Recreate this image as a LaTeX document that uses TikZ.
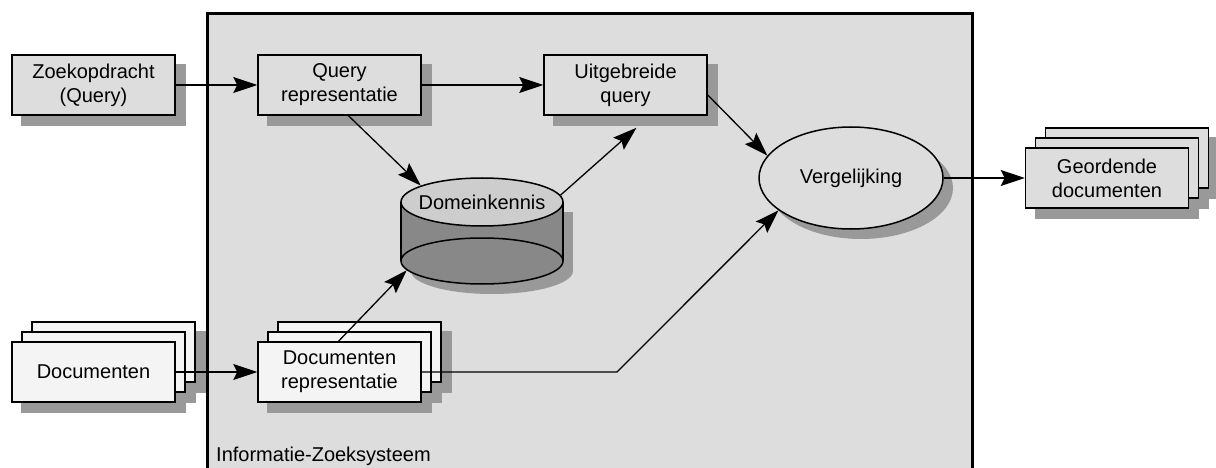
\documentclass[tikz,border=0pt]{standalone}
\usepackage{fontspec}
\setmainfont{Liberation Sans}
\usetikzlibrary{arrows.meta,shapes.geometric,calc}

\definecolor{sysgray}{HTML}{DDDDDD}
\definecolor{boxgray}{HTML}{DDDDDD}
\definecolor{docwhite}{HTML}{F4F4F4}
\definecolor{shadowgray}{HTML}{999999}
\definecolor{cylside}{HTML}{888888}
\definecolor{cyltop}{HTML}{CDCDCD}

\pgfdeclarelayer{sys}
\pgfdeclarelayer{shade}
\pgfsetlayers{sys,shade,main}

\tikzset{
  box/.style={draw, line width=1.5pt, fill=boxgray, minimum width=163pt,
    minimum height=60pt, inner sep=0pt, align=center,
    font=\fontsize{20}{24}\selectfont},
  docbox/.style={box, fill=docwhite},
  txt/.style={inner sep=0pt, font=\fontsize{20}{24}\selectfont},
  arr/.style={line width=1.3pt, -{Stealth[length=24pt,width=16pt,inset=4pt]}},
  shadowfill/.style={fill=shadowgray},
}
\newcommand\boxshadow[1]{%
  \fill[shadowfill] ([shift={(10,10)}]#1.north west) rectangle ([shift={(10,10)}]#1.south east);}

\begin{document}
\begin{tikzpicture}[x=1pt,y=-1pt]
\useasboundingbox (0,0) rectangle (1216,468);

% information retrieval system frame
\begin{pgfonlayer}{sys}
  \filldraw[fill=sysgray, line width=3pt] (207,14) rectangle (972,480);
\end{pgfonlayer}
\node[txt, anchor=base west] (syslabel) at (216,461.5) {Informatie-Zoeksysteem};

% query side
\node[box] (zoek) at (93.5,85) {Zoekopdracht\\(Query)};
\node[box] (qrep) at (339.5,85) {Query\\representatie};
\node[box] (uitg) at (625.5,85) {Uitgebreide\\query};

% document stacks
\node[docbox] (docsC) at (113.5,352) {};
\node[docbox] (docsB) at (103.5,362) {};
\node[docbox] (docs)  at (93.5,372) {Documenten};
\node[docbox] (drepC) at (359.5,352) {};
\node[docbox] (drepB) at (349.5,362) {};
\node[docbox] (drep)  at (339.5,372) {Documenten\\representatie};
\node[box] (geordC) at (1127,158) {};
\node[box] (geordB) at (1117,168) {};
\node[box] (geord)  at (1107,178) {Geordende\\documenten};

% matching
\node[draw, ellipse, line width=1.5pt, fill=boxgray, minimum width=184pt,
      minimum height=102pt, inner sep=0pt, font=\fontsize{20}{24}\selectfont]
      (verg) at (851,178) {Vergelijking};

% domain knowledge cylinder
\fill[cylside] (401,202) rectangle (563,261);
\node[draw, ellipse, line width=1.5pt, fill=cylside, minimum width=162pt,
      minimum height=46pt, inner sep=0pt] (dkbot) at (482,261) {};
\draw[line width=1.5pt] (401,202) -- (401,261) (563,202) -- (563,261);
\node[draw, ellipse, line width=1.5pt, fill=cyltop, minimum width=162pt,
      minimum height=48pt, inner sep=0pt] (dktop) at (482,202) {};
\node[txt] (dklabel) at (482,202) {Domeinkennis};

% drop shadows
\begin{pgfonlayer}{shade}
  \foreach \n in {zoek,qrep,uitg,docs,docsB,docsC,drep,drepB,drepC,geord,geordB,geordC}
    {\boxshadow{\n}}
  \fill[shadowfill] (861,188) ellipse [x radius=92pt, y radius=51pt];
  \fill[shadowfill] (411,212) rectangle (573,271);
  \fill[shadowfill] (492,271) ellipse [x radius=81pt, y radius=23pt];
\end{pgfonlayer}

% connectors
\draw[arr] (zoek.east) -- (qrep.west);
\draw[arr] (qrep.east) -- (uitg.west);
\draw[arr] ([xshift=9pt]qrep.south) -- (dktop.165);
\draw[arr] (dktop.5) -- ($(uitg.south)+(11,12)$);
\draw[arr] ([yshift=-10pt]uitg.east) -- (verg.165);
\draw[arr] (verg.east) -- (geord.west);
\draw[arr] (docs.east) -- (drep.west);
\draw[arr] ([xshift=-1pt]drep.north) -- (dkbot.187);
\coordinate (kink) at (617,372);
\draw[arr] (drep.east) -- (kink) -- (verg.204);
\end{tikzpicture}
\end{document}
